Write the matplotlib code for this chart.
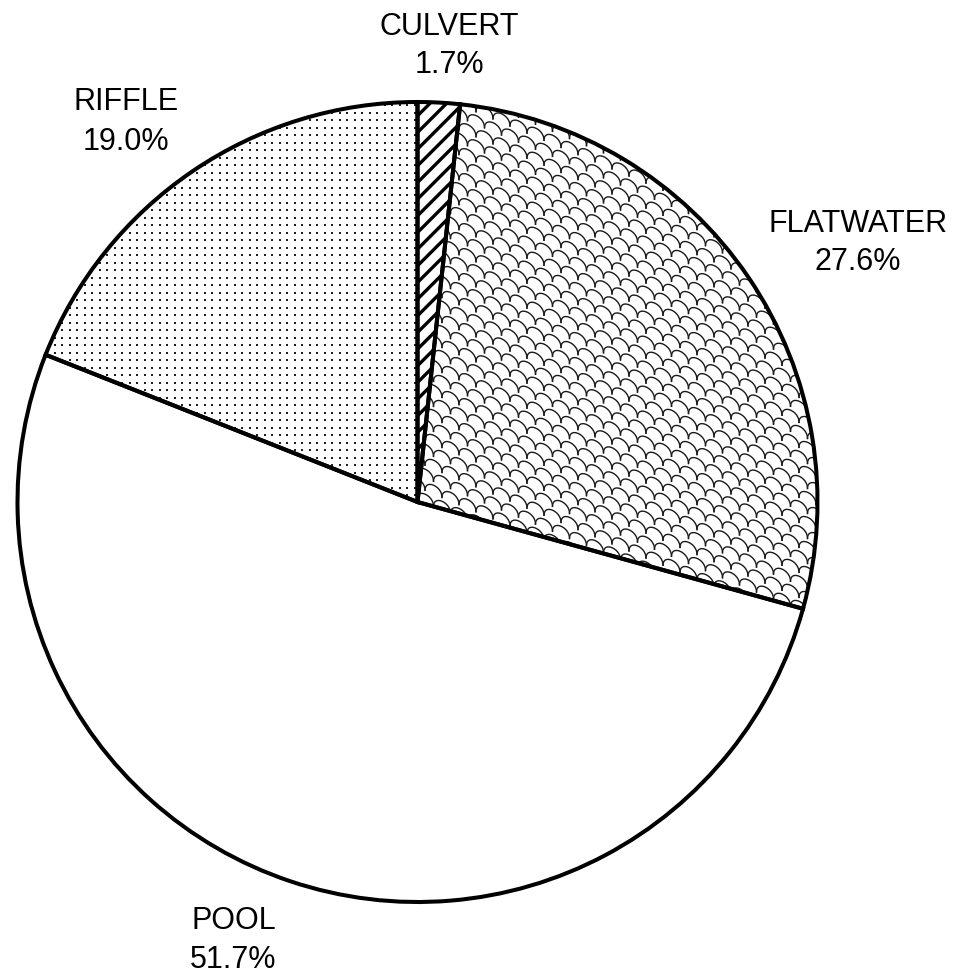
import numpy as np
import matplotlib
matplotlib.use("Agg")
import matplotlib.pyplot as plt
from matplotlib.collections import LineCollection

# Habitat composition of the surveyed reach (percent of length)
habitats = ["CULVERT", "FLATWATER", "POOL", "RIFFLE"]
shares = [1.7, 27.6, 51.7, 19.0]

W, H = 964, 976
plt.rcParams["font.family"] = ["Liberation Sans", "DejaVu Sans"]
plt.rcParams["hatch.linewidth"] = 2.4
plt.rcParams["hatch.color"] = "black"

fig = plt.figure(figsize=(W / 100, H / 100), dpi=100)
ax = fig.add_axes([0, 0, 1, 1])

CX, CY, R = 417.5, H - 502, 400
EDGE_LW = 2.9


def px(y):
    """Convert a top-down pixel row into the axes' upward y coordinate."""
    return H - y


wedges, _ = ax.pie(shares, startangle=90, counterclock=False,
                   center=(CX, CY), radius=R,
                   wedgeprops=dict(facecolor="white", edgecolor="none"))

fill_style = {"CULVERT": "stripes", "FLATWATER": "shingle",
              "POOL": None, "RIFFLE": "dots"}

for name, w in zip(habitats, wedges):
    w.set_zorder(1)
    style = fill_style[name]
    if style == "stripes":
        w.set_hatch("//")
        w.set_edgecolor("black")
        w.set_linewidth(0)
    elif style == "dots":
        step = 7.5
        gx, gy = np.meshgrid(np.arange(0, W, step), np.arange(0, H, step))
        sc = ax.scatter(gx.ravel() + 2, gy.ravel() + 1, s=3.0, marker="s",
                        color="#202020", linewidths=0, zorder=2)
        sc.set_clip_path(w)
    elif style == "shingle":
        # interlocking shingles: offset rows of flattened arcs, sheared downward
        tw, th, shear = 17.0, 12.5, 0.42
        t = np.linspace(0, np.pi, 16)
        segs = []
        for j in range(-60, 100):
            for i in range(-5, 65):
                x0 = i * tw + (j % 2) * tw / 2
                y0 = j * th
                xs = x0 + (tw / 2) * np.cos(t)
                ys = y0 - th * 0.75 * np.sin(t) ** 0.8 + shear * xs
                segs.append(np.column_stack([xs, px(ys)]))
        lc = LineCollection(segs, colors="#1a1a1a", linewidths=1.0, zorder=2)
        ax.add_collection(lc)
        lc.set_clip_path(w)

# Outlines drawn on top of the fills
outline, _ = ax.pie(shares, startangle=90, counterclock=False,
                    center=(CX, CY), radius=R,
                    wedgeprops=dict(facecolor="none", edgecolor="black",
                                    linewidth=EDGE_LW))
for o in outline:
    o.set_zorder(4)

# Label anchors: (x, baseline of name row, baseline of percent row) in pixels
label_anchor = {"CULVERT": (449, 35, 73),
                "FLATWATER": (858, 232, 270),
                "POOL": (233.5, 929, 968),
                "RIFFLE": (126, 110, 150)}

for name, val in zip(habitats, shares):
    x, yb1, yb2 = label_anchor[name]
    ax.text(x, px(yb1), name, ha="center", va="baseline", fontsize=22,
            color="black")
    ax.text(x, px(yb2), f"{val:.1f}%", ha="center", va="baseline",
            fontsize=22, color="black")

ax.set_xlim(0, W)
ax.set_ylim(0, H)
ax.set_aspect("auto")
ax.axis("off")

fig.savefig("out.png", dpi=100, facecolor="white")
